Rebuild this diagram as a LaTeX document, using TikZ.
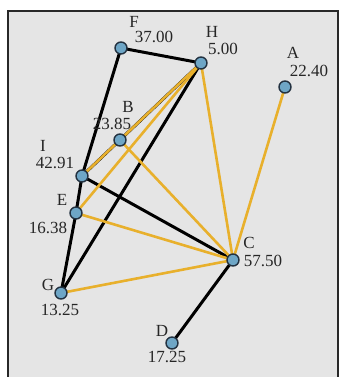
\documentclass[tikz,border=0pt]{standalone}
\usepackage{fontspec}
\setmainfont{Liberation Serif}
\usepackage{xcolor}
\definecolor{gdframe}{RGB}{40,40,40}
\definecolor{gdbg}{RGB}{229,229,229}
\definecolor{gdgold}{RGB}{232,176,44}
\definecolor{gdblue}{RGB}{110,166,198}
\definecolor{gdnavy}{RGB}{35,50,65}
\usetikzlibrary{positioning}

\begin{document}
\begin{tikzpicture}[x=1pt, y=-1pt,
    vert/.style={circle, draw=gdnavy, fill=gdblue, line width=1.4pt, minimum size=12pt, inner sep=0pt},
    blackedge/.style={black, line width=3pt},
    goldedge/.style={gdgold, line width=2.6pt},
    lab/.style={font=\fontsize{17}{17}\selectfont, text=black!85, inner sep=0pt}]

\useasboundingbox (0,0) rectangle (339,377);

% --- frame ---
\fill[gdbg] (8,11) rectangle (338,377);
\draw[gdframe, line width=1.6pt] (8,377) -- (8,11) -- (338,11) -- (338,377);

% vertex positions
\coordinate (F) at (121,48);
\coordinate (H) at (201,63);
\coordinate (A) at (285,87);
\coordinate (B) at (120,140);
\coordinate (I) at (82,176);
\coordinate (E) at (76,213);
\coordinate (C) at (233,260);
\coordinate (G) at (61,293);
\coordinate (D) at (172,343);

% --- black edges ---
\draw[blackedge] (F) -- (H);
\draw[blackedge] (F) -- (I);
\draw[blackedge] (I) -- (E);
\draw[blackedge] (E) -- (G);
\draw[blackedge] (H) -- (G);
\draw[blackedge] (I) -- (C);
\draw[blackedge] (C) -- (D);
\draw[blackedge] (I) -- (H);

% --- gold edges ---
\draw[goldedge, transform canvas={xshift=0.9pt, yshift=0.9pt}] (I) -- (H);
\draw[goldedge] (H) -- (E);
\draw[goldedge] (H) -- (C);
\draw[goldedge] (A) -- (C);
\draw[goldedge] (B) -- (C);
\draw[goldedge] (E) -- (C);
\draw[goldedge] (G) -- (C);

% --- vertices ---
\foreach \v in {F,H,A,B,I,E,C,G,D}
    \node[vert] (\v-dot) at (\v) {};

% --- labels ---
\node[lab] (F-name) at (134,22) {F};
\node[lab] (F-val) at (154,37) {37.00};
\node[lab] (H-name) at (212,32) {H};
\node[lab] (H-val) at (223,49) {5.00};
\node[lab] (A-name) at (293,53) {A};
\node[lab] (A-val) at (309,71) {22.40};
\node[lab] (B-name) at (128,107) {B};
\node[lab] (B-val) at (112,124) {23.85};
\node[lab] (I-name) at (43,146) {I};
\node[lab] (I-val) at (55,163) {42.91};
\node[lab] (E-name) at (62,200) {E};
\node[lab] (E-val) at (48,228) {16.38};
\node[lab] (C-name) at (249,243) {C};
\node[lab] (C-val) at (263,261) {57.50};
\node[lab] (G-name) at (48,285) {G};
\node[lab] (G-val) at (60,310) {13.25};
\node[lab] (D-name) at (162,331) {D};
\node[lab] (D-val) at (167,357) {17.25};

\end{tikzpicture}
\end{document}
